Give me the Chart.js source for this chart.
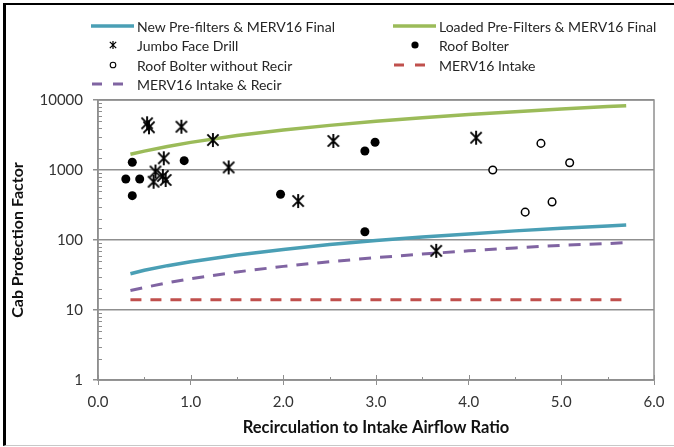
<!DOCTYPE html>
<html>
<head>
<meta charset="utf-8">
<title>Cab Protection Factor vs Recirculation Ratio</title>
<script src="https://cdn.jsdelivr.net/npm/chart.js@4.4.0/dist/chart.umd.min.js"></script>
<style>
    html, body { margin: 0; padding: 0; background: #fff; }
    #wrap { position: relative; width: 674px; height: 447px; overflow: hidden; }
    #frame {
        position: absolute; left: 3px; top: 3px; right: -4px; bottom: 1px;
        border-left: 3px solid #000; border-top: 2px solid #000; border-bottom: 1px solid #c8c8c8;
    }
    #chartBox { position: absolute; left: 0; top: 0; width: 674px; height: 447px; }
    #legend { position: absolute; left: 0; top: 0; font: 14px Lato, sans-serif; color: #262626; }
    .item { position: absolute; display: flex; align-items: center; height: 20px; white-space: nowrap; }
    .item canvas { margin-right: 2px; }
</style>
</head>
<body>
<div id="wrap">
    <div id="frame"></div>
    <div id="chartBox"><canvas id="cpfChart"></canvas></div>
    <div id="legend"></div>
</div>
<script>
// --- DATA ---

// model curves, sampled along the recirculation ratio
const curveX = [0.35, 0.5, 0.75, 1.0, 1.5, 2.0, 2.5, 3.0, 3.5, 4.0, 4.5, 5.0, 5.5, 5.7];
const newPrefilterCpf = [33, 37, 43, 49, 61, 73, 86, 98, 110, 122, 135, 147, 159, 164];
const loadedPrefilterCpf = [1680, 1860, 2170, 2480, 3100, 3720, 4340, 4960, 5580, 6200, 6820, 7440, 8060, 8300];
const merv16IntakeCpf = [14, 14, 14, 14, 14, 14, 14, 14, 14, 14, 14, 14, 14, 14];
const merv16RecirCpf = [19, 21, 24.5, 28, 35, 42, 49, 56, 63, 70, 77, 84, 89, 92];

// field measurements
const jumboX = [0.53, 0.55, 0.90, 1.24, 0.71, 0.62, 0.60, 0.70, 0.73, 1.41, 2.16, 2.54, 4.08, 3.65];
const jumboCpf = [4650, 4080, 4150, 2680, 1470, 950, 680, 820, 720, 1090, 360, 2600, 2890, 70];
const bolterX = [0.37, 0.30, 0.45, 0.37, 0.93, 1.97, 2.88, 2.99, 2.88];
const bolterCpf = [1290, 745, 745, 430, 1360, 450, 1870, 2490, 131];
const bolterNoRecirX = [4.78, 5.09, 4.26, 4.61, 4.90];
const bolterNoRecirCpf = [2400, 1270, 1000, 250, 350];

const xTicks = [0, 1, 2, 3, 4, 5, 6];
const yDecades = [1, 10, 100, 1000, 10000];

// --- HELPERS ---

const GRID = '#8f8f8f';
const FONT = 'Lato, "Open Sans", sans-serif';

function toPoints(xs, ys) {
    return xs.map((x, i) => ({ x, y: ys[i] }));
}

/**
 * Excel-style "star" marker: an X with a vertical stroke through it.
 */
function drawAsterisk(ctx, cx, cy, r, lw) {
    ctx.save();
    ctx.strokeStyle = '#000';
    ctx.lineWidth = lw;
    ctx.beginPath();
    ctx.moveTo(cx - r * 0.8, cy - r * 0.8); ctx.lineTo(cx + r * 0.8, cy + r * 0.8);
    ctx.moveTo(cx + r * 0.8, cy - r * 0.8); ctx.lineTo(cx - r * 0.8, cy + r * 0.8);
    ctx.moveTo(cx, cy - r); ctx.lineTo(cx, cy + r);
    ctx.stroke();
    ctx.restore();
}

function makeAsteriskImage(r, lw) {
    const c = document.createElement('canvas');
    c.width = c.height = Math.ceil(r * 2 + 2);
    drawAsterisk(c.getContext('2d'), c.width / 2, c.height / 2, r, lw);
    return c;
}

function isDecade(v) {
    const l = Math.log10(v);
    return Math.abs(l - Math.round(l)) < 1e-9;
}

// plot frame plus the small inside tick marks Excel draws
const axisDecor = {
    id: 'axisDecor',
    beforeDatasetsDraw(chart) {
        const { ctx, chartArea: a, scales: { x, y } } = chart;
        ctx.save();
        ctx.strokeStyle = GRID;
        ctx.lineWidth = 1.5;
        ctx.strokeRect(a.left, a.top, a.right - a.left, a.bottom - a.top);
        ctx.lineWidth = 1;
        ctx.beginPath();
        y.ticks.forEach(t => {
            if (isDecade(t.value)) return;
            const py = Math.round(y.getPixelForValue(t.value)) + 0.5;
            ctx.moveTo(a.left, py); ctx.lineTo(a.left + 4, py);
        });
        x.ticks.forEach(t => {
            const px = Math.round(x.getPixelForValue(t.value)) + 0.5;
            const len = Number.isInteger(t.value) ? 5 : 3;
            ctx.moveTo(px, a.bottom); ctx.lineTo(px, a.bottom - len);
        });
        ctx.stroke();
        ctx.restore();
    }
};

// --- CHART ---

const lineDefaults = { showLine: true, pointRadius: 0, pointHoverRadius: 0, fill: false, order: 1, borderCapStyle: 'butt' };

const datasets = [
    { ...lineDefaults, label: 'New Pre-filters & MERV16 Final', data: toPoints(curveX, newPrefilterCpf), borderColor: '#4a9fb5', borderWidth: 3.5 },
    { ...lineDefaults, label: 'Loaded Pre-Filters & MERV16 Final', data: toPoints(curveX, loadedPrefilterCpf), borderColor: '#9bbb59', borderWidth: 3.5 },
    { label: 'Jumbo Face Drill', data: toPoints(jumboX, jumboCpf), pointStyle: makeAsteriskImage(7, 1.9), pointRadius: 6, order: 0 },
    { label: 'Roof Bolter', data: toPoints(bolterX, bolterCpf), pointStyle: 'circle', pointRadius: 4.5, backgroundColor: '#000', borderColor: '#000', borderWidth: 0, order: 0 },
    { label: 'Roof Bolter without Recir', data: toPoints(bolterNoRecirX, bolterNoRecirCpf), pointStyle: 'circle', pointRadius: 3.8, backgroundColor: '#fff', borderColor: '#000', borderWidth: 1.5, order: 0 },
    { ...lineDefaults, label: 'MERV16 Intake', data: toPoints(curveX, merv16IntakeCpf), borderColor: '#c0504d', borderWidth: 3, borderDash: [11, 9] },
    { ...lineDefaults, label: 'MERV16 Intake & Recir', data: toPoints(curveX, merv16RecirCpf), borderColor: '#8064a2', borderWidth: 3, borderDash: [12, 9] }
];

const chart = new Chart(document.getElementById('cpfChart'), {
    type: 'scatter',
    data: { datasets },
    options: {
        responsive: true,
        maintainAspectRatio: false,
        animation: false,
        layout: { padding: { top: 100, right: 20, left: 0, bottom: 0 } },
        plugins: { legend: { display: false }, tooltip: { enabled: false } },
        scales: {
            x: {
                type: 'linear',
                min: 0,
                max: 6,
                afterFit: (scale) => { scale.height = 67; },
                ticks: {
                    stepSize: 0.5,
                    autoSkip: false,
                    maxRotation: 0,
                    padding: 8,
                    color: '#333',
                    font: { family: FONT, size: 15 },
                    callback: (v) => (xTicks.includes(v) ? v.toFixed(1) : '')
                },
                grid: {
                    drawOnChartArea: false,
                    tickLength: 5,
                    tickWidth: 1,
                    tickColor: (c) => (c.tick && xTicks.includes(c.tick.value) ? GRID : 'rgba(0,0,0,0)')
                },
                border: { color: GRID, width: 1.5 },
                title: {
                    display: true,
                    text: 'Recirculation to Intake Airflow Ratio',
                    color: '#111',
                    font: { family: FONT, size: 16.5, weight: 'bold' },
                    padding: { top: 0, bottom: 9 }
                }
            },
            y: {
                type: 'logarithmic',
                min: 1,
                max: 10000,
                afterFit: (scale) => { scale.width = 98; },
                ticks: {
                    autoSkip: false,
                    padding: 10,
                    color: '#333',
                    font: { family: FONT, size: 15 },
                    callback: (v) => (yDecades.includes(v) ? String(v) : '')
                },
                grid: {
                    lineWidth: 1.5,
                    tickLength: 5,
                    color: (c) => (c.tick && isDecade(c.tick.value) ? GRID : 'rgba(0,0,0,0)'),
                    tickColor: (c) => (c.tick && isDecade(c.tick.value) ? GRID : 'rgba(0,0,0,0)')
                },
                border: { color: GRID, width: 1.5 },
                title: {
                    display: true,
                    text: 'Cab Protection Factor',
                    color: '#111',
                    font: { family: FONT, size: 16, weight: 'bold' },
                    padding: { top: 8, bottom: 0 }
                }
            }
        }
    },
    plugins: [axisDecor]
});

// --- LEGEND (two columns, Excel layout) ---

function drawLegendSymbol(ds) {
    const c = document.createElement('canvas');
    c.width = 44; c.height = 14;
    const ctx = c.getContext('2d');
    if (ds.showLine) {
        ctx.strokeStyle = ds.borderColor;
        ctx.lineWidth = ds.borderWidth;
        ctx.beginPath();
        if (ds.borderDash) {
            ctx.moveTo(1, 7); ctx.lineTo(11, 7);
            ctx.moveTo(22, 7); ctx.lineTo(32, 7);
        } else {
            ctx.moveTo(0, 7); ctx.lineTo(43, 7);
        }
        ctx.stroke();
    } else if (ds.pointStyle instanceof HTMLCanvasElement) {
        drawAsterisk(ctx, 22, 7, 4, 1.2);
    } else {
        ctx.beginPath();
        ctx.arc(22, 7, ds.backgroundColor === '#fff' ? 2.8 : 3.6, 0, Math.PI * 2);
        ctx.fillStyle = ds.backgroundColor;
        ctx.fill();
        if (ds.borderWidth) { ctx.lineWidth = 1.1; ctx.strokeStyle = ds.borderColor; ctx.stroke(); }
    }
    return c;
}

const legendEl = document.getElementById('legend');
const colLeft = [91, 393];
const rowTop = [16, 35, 55, 74];
chart.data.datasets.forEach((ds, i) => {
    const item = document.createElement('div');
    item.className = 'item';
    item.style.left = colLeft[i % 2] + 'px';
    item.style.top = rowTop[Math.floor(i / 2)] + 'px';
    item.appendChild(drawLegendSymbol(ds));
    const label = document.createElement('span');
    label.textContent = ds.label;
    item.appendChild(label);
    legendEl.appendChild(item);
});
</script>
</body>
</html>
